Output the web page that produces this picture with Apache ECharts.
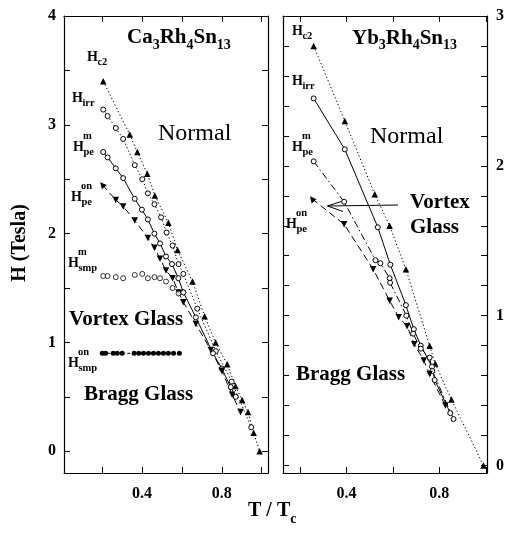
<!DOCTYPE html>
<html><head><meta charset="utf-8">
<script src="https://cdn.jsdelivr.net/npm/echarts@6/dist/echarts.min.js"></script>
<style>html,body{margin:0;padding:0;background:#fff}#c{width:510px;height:537px}</style>
</head><body><div id="c"></div>
<script>
// ---- Data: [T/Tc, H (Tesla)] ----
const caHc2 = [[0.205,3.40],[0.338,2.91],[0.376,2.75],[0.426,2.55],[0.464,2.35],[0.532,2.10],[0.578,1.85],[0.653,1.56],[0.714,1.24],[0.769,1.00],[0.827,0.80],[0.869,0.60],[0.902,0.47],[0.932,0.36],[0.960,0.17],[0.99,0.0]];
const caHirr = [[0.205,3.14],[0.227,3.08],[0.268,2.97],[0.305,2.87],[0.363,2.63],[0.401,2.50],[0.429,2.37],[0.462,2.27],[0.495,2.15],[0.523,2.01],[0.553,1.89],[0.583,1.72],[0.607,1.63],[0.677,1.31],[0.77,0.92],[0.85,0.64],[0.948,0.22]];
const caHpeM = [[0.205,2.75],[0.227,2.70],[0.268,2.60],[0.305,2.51],[0.363,2.32],[0.399,2.22],[0.429,2.13],[0.462,2.00],[0.49,1.91],[0.52,1.79],[0.55,1.72],[0.582,1.59],[0.607,1.46],[0.67,1.23],[0.756,0.90],[0.80,0.76],[0.845,0.59],[0.87,0.50]];
const caHpeOn = [[0.20,2.45],[0.268,2.31],[0.305,2.25],[0.363,2.12],[0.429,1.96],[0.462,1.87],[0.49,1.77],[0.52,1.66],[0.553,1.59],[0.583,1.46],[0.607,1.37],[0.67,1.17],[0.745,0.93],[0.80,0.74],[0.852,0.52],[0.894,0.36]];
const caHsmpM = [[0.205,1.61],[0.227,1.61],[0.268,1.60],[0.305,1.59],[0.363,1.62],[0.401,1.63],[0.429,1.59],[0.462,1.60],[0.49,1.59],[0.52,1.56],[0.553,1.50],[0.583,1.45],[0.607,1.46]];
const caHsmpOn = [[0.20,0.90],[0.217,0.90],[0.255,0.90],[0.275,0.90],[0.30,0.90],[0.36,0.90],[0.383,0.90],[0.407,0.90],[0.432,0.90],[0.457,0.90],[0.482,0.90],[0.507,0.90],[0.532,0.90],[0.558,0.90],[0.587,0.90]];

const ybHc2 = [[0.259,2.80],[0.393,2.30],[0.522,1.81],[0.586,1.60],[0.656,1.31],[0.758,0.80],[0.782,0.68],[0.852,0.44],[0.99,0.0]];
const ybHirr = [[0.259,2.45],[0.393,2.11],[0.535,1.59],[0.589,1.34],[0.656,1.07],[0.69,0.91],[0.72,0.80],[0.768,0.66],[0.78,0.57],[0.847,0.35]];
const ybHpeM = [[0.259,2.03],[0.39,1.76],[0.525,1.37],[0.546,1.35],[0.586,1.25],[0.588,1.22],[0.658,1.00],[0.687,0.88],[0.72,0.78],[0.758,0.72],[0.77,0.63],[0.861,0.31]];
const ybHpeOn = [[0.252,1.78],[0.39,1.61],[0.515,1.31],[0.586,1.10],[0.625,0.99],[0.661,0.93],[0.692,0.81],[0.733,0.70],[0.758,0.61],[0.826,0.40]];

// ---- Axis ticks / labels ----
const xTicks = [0.2,0.4,0.6,0.8,1.0];
const xLabels = [0.4,0.8];
const caYTicks = [0,0.5,1,1.5,2,2.5,3,3.5,4];
const caYLabels = [0,1,2,3,4];
const ybYTicks = [0,0.2,0.4,0.6,0.8,1,1.2,1.4,1.6,1.8,2,2.2,2.4,2.6,2.8,3];
const ybYLabels = [0,1,2,3];

const FONT = '"Liberation Serif","Times New Roman",serif';
const chart = echarts.init(document.getElementById('c'), null, {renderer:'canvas'});

function xAx(grid, pos, min, max, labels){
  return {type:'value', gridIndex:grid, position:pos, min:min, max:max,
    axisLine:{show:true,onZero:false,lineStyle:{color:'#000',width:1.2}},
    axisTick:{show:true,inside:true,length:6,customValues:xTicks,lineStyle:{color:'#000',width:1}},
    axisLabel:labels?{show:true,customValues:xLabels,margin:13,color:'#000',fontFamily:FONT,fontWeight:'bold',fontSize:16}:{show:false},
    splitLine:{show:false}};
}
function yAx(grid, pos, min, max, ticks, labels, margin){
  return {type:'value', gridIndex:grid, position:pos, min:min, max:max,
    axisLine:{show:true,onZero:false,lineStyle:{color:'#000',width:1.2}},
    axisTick:{show:true,inside:true,length:6,customValues:ticks,lineStyle:{color:'#000',width:1}},
    axisLabel:labels?{show:true,customValues:labels,margin:margin,color:'#000',fontFamily:FONT,fontWeight:'bold',fontSize:16}:{show:false},
    splitLine:{show:false}};
}
function ser(type, data, xi, yi, symbol, size, filled, dash, rot){
  const s = {type:type, data:data.map((d,i)=>{
      const o={value:d};
      if(rot!==undefined){ o.symbolRotate = (i===0 && symbol==='triangle' && rot===180) ? 40 : rot; }
      return o;}),
    xAxisIndex:xi, yAxisIndex:yi, symbol:symbol, symbolSize:size, showSymbol:true,
    animation:false, silent:true, clip:false,
    itemStyle:filled?{color:'#000'}:{color:'#fff',borderColor:'#000',borderWidth:1},
    z:3};
  if(type==='line'){ s.lineStyle={color:'#000',width:1,type:dash}; }
  return s;
}

const dotted=[1.3,2.4], dashDot=[7,3,1.5,3], longDash=[7,4];

const series = [
  ser('line', caHc2, 0,0,'triangle',6.5,true,dotted),
  ser('line', caHirr,0,0,'circle',5,false,dotted),
  ser('line', caHpeM,0,0,'circle',5,false,'solid'),
  ser('line', caHpeOn,0,0,'triangle',6.5,true,longDash,180),
  ser('scatter', caHsmpM,0,0,'circle',5,false),
  ser('line', caHsmpOn,0,0,'circle',5,true,[3,2]),
  ser('line', ybHc2, 2,2,'triangle',6.5,true,dotted),
  ser('line', ybHirr,2,2,'circle',5,false,'solid'),
  ser('line', ybHpeM,2,2,'circle',5,false,dashDot),
  ser('line', ybHpeOn,2,2,'triangle',6.5,true,longDash,180)
];

// text helpers
const cv=document.createElement('canvas').getContext('2d');
function w(t,size,bold){cv.font=(bold?'bold ':'')+size+'px '+FONT;return cv.measureText(t).width;}
const G=[];
function txt(t,x,y,size,bold,extra){
  G.push(Object.assign({type:'text',silent:true,z:10,style:{text:t,x:x,y:y,fill:'#000',
    font:(bold?'bold ':'')+size+'px '+FONT,align:'left',verticalAlign:'middle'}},extra||{}));
}
function hLab(x,y,sub,sup){
  txt('H',x,y,14,true);
  const hw=w('H',14,true);
  txt(sub,x+hw-0.5,y+5,10.5,true);
  if(sup) txt(sup,x+hw-1,y-11,10.5,true);
}
function formula(parts,x,y){
  let cx=x;
  parts.forEach(p=>{
    if(p.sub){txt(p.t,cx,y+7,14,true);cx+=w(p.t,14,true);}
    else {txt(p.t,cx,y,21,true);cx+=w(p.t,21,true);}
  });
}
formula([{t:'Ca'},{t:'3',sub:1},{t:'Rh'},{t:'4',sub:1},{t:'Sn'},{t:'13',sub:1}],127,38);
formula([{t:'Yb'},{t:'3',sub:1},{t:'Rh'},{t:'4',sub:1},{t:'Sn'},{t:'13',sub:1}],352,38.5);

hLab(87,57.5,'c2');
hLab(72,98,'irr');
hLab(73,147.5,'pe','m');
hLab(71,197,'pe','on');
hLab(68,263,'smp','m');
hLab(68,363,'smp','on');

hLab(292,31,'c2');
hLab(292,81,'irr');
hLab(292,147,'pe','m');
hLab(286,224,'pe','on');

txt('Normal',158,134,24,false);
txt('Normal',370,137,24,false);
txt('Vortex Glass',69,320,21,true);
txt('Bragg Glass',84,395,21,true);
txt('Vortex',410,203,21,true);
txt('Glass',410,227.5,21,true);
txt('Bragg Glass',296,375,21,true);

G.push({type:'text',silent:true,x:20,y:243,rotation:Math.PI/2,style:{text:'H (Tesla)',fill:'#000',font:'bold 20px '+FONT,align:'center',verticalAlign:'middle'}});
txt('T / T',248,511,20,true);
txt('c',248+w('T / T',20,true),519,14,true);

G.push({type:'polyline',silent:true,shape:{points:[[398,205],[327.5,206]]},style:{stroke:'#000',lineWidth:1,fill:null}});
G.push({type:'polyline',silent:true,shape:{points:[[343,201],[327.5,206],[343,211.5]]},style:{stroke:'#000',lineWidth:1,fill:null}});

chart.setOption({
  animation:false,
  backgroundColor:'#fff',
  grid:[{left:64,top:16,width:204,height:457},{left:283,top:16,width:204,height:457}],
  xAxis:[xAx(0,'bottom',0.008,1.032,true),xAx(0,'top',0.008,1.032,false),
         xAx(1,'bottom',0.127,1.005,true),xAx(1,'top',0.127,1.005,false)],
  yAxis:[yAx(0,'left',-0.2,4,caYTicks,caYLabels,8),yAx(0,'right',-0.2,4,caYTicks,null),
         yAx(1,'right',-0.05,3,ybYTicks,ybYLabels,9),yAx(1,'left',-0.05,3,ybYTicks,null)],
  series:series,
  graphic:G
});
</script></body></html>
